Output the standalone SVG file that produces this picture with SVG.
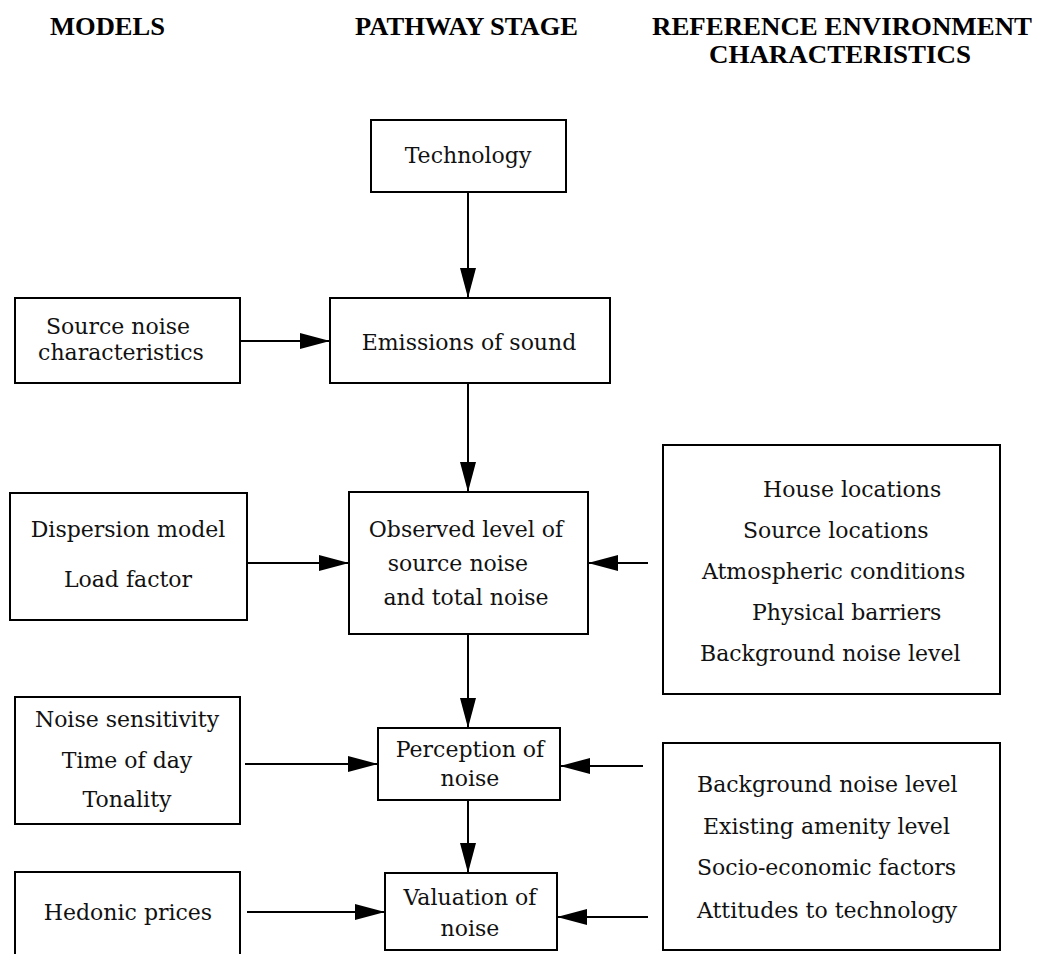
<svg xmlns="http://www.w3.org/2000/svg" width="1038" height="954" viewBox="0 0 1038 954">
<style>
.box{fill:#fff;stroke:#000;stroke-width:2}
.t{font-family:"DejaVu Serif","Liberation Serif",serif;font-size:22px;fill:#111;text-anchor:middle}
.ts{font-family:"DejaVu Serif","Liberation Serif",serif;font-size:22px;fill:#111;text-anchor:start}
.h{font-family:"Liberation Serif",serif;font-size:26px;font-weight:bold;fill:#000;text-anchor:start}
.c{stroke:#000;stroke-width:2;fill:none;marker-end:url(#ah)}
</style>
<defs>
<marker id="ah" viewBox="0 0 30 16" refX="30" refY="8" markerWidth="30" markerHeight="16" markerUnits="userSpaceOnUse" orient="auto">
<path d="M0,0 L30,8 L0,16 Z" fill="#000"/>
</marker>
</defs>
<rect width="1038" height="954" fill="#fff"/>
<g id="headers">
<text class="h" x="50" y="35" textLength="115" lengthAdjust="spacingAndGlyphs">MODELS</text>
<text class="h" x="355" y="35" textLength="223" lengthAdjust="spacingAndGlyphs">PATHWAY STAGE</text>
<text class="h" x="652" y="35" textLength="380" lengthAdjust="spacingAndGlyphs">REFERENCE ENVIRONMENT</text>
<text class="h" x="709" y="63" textLength="262" lengthAdjust="spacingAndGlyphs">CHARACTERISTICS</text>
</g>
<g id="connectors">
<line class="c" x1="468" y1="192" x2="468" y2="298"/>
<line class="c" x1="240" y1="341" x2="330" y2="341"/>
<line class="c" x1="468" y1="383" x2="468" y2="492"/>
<line class="c" x1="247" y1="563" x2="349" y2="563"/>
<line class="c" x1="648" y1="563" x2="588" y2="563"/>
<line class="c" x1="468" y1="634" x2="468" y2="728"/>
<line class="c" x1="245" y1="764" x2="378" y2="764"/>
<line class="c" x1="643" y1="766" x2="560" y2="766"/>
<line class="c" x1="468" y1="800" x2="468" y2="873"/>
<line class="c" x1="247" y1="912" x2="385" y2="912"/>
<line class="c" x1="648" y1="917" x2="557" y2="917"/>
</g>
<g id="technology">
<rect class="box" x="371" y="120" width="195" height="72"/>
<text class="t" x="468" y="163">Technology</text>
</g>
<g id="emissions">
<rect class="box" x="330" y="298" width="280" height="85"/>
<text class="t" x="469" y="350">Emissions of sound</text>
</g>
<g id="source-noise">
<rect class="box" x="15" y="298" width="225" height="85"/>
<text class="t" x="118" y="334">Source noise</text>
<text class="t" x="121" y="360">characteristics</text>
</g>
<g id="observed">
<rect class="box" x="349" y="492" width="239" height="142"/>
<text class="t" x="466" y="537">Observed level of</text>
<text class="t" x="458" y="571">source noise</text>
<text class="t" x="466" y="605">and total noise</text>
</g>
<g id="dispersion">
<rect class="box" x="10" y="493" width="237" height="127"/>
<text class="t" x="128" y="537">Dispersion model</text>
<text class="t" x="128" y="587">Load factor</text>
</g>
<g id="environment-1">
<rect class="box" x="663" y="445" width="337" height="249"/>
<text class="ts" x="763" y="497">House locations</text>
<text class="ts" x="743" y="538">Source locations</text>
<text class="ts" x="702" y="579">Atmospheric conditions</text>
<text class="ts" x="752" y="620">Physical barriers</text>
<text class="ts" x="700" y="661">Background noise level</text>
</g>
<g id="perception">
<rect class="box" x="378" y="728" width="182" height="72"/>
<text class="t" x="470" y="757">Perception of</text>
<text class="t" x="470" y="786">noise</text>
</g>
<g id="sensitivity">
<rect class="box" x="15" y="697" width="225" height="127"/>
<text class="t" x="127" y="727">Noise sensitivity</text>
<text class="t" x="127" y="768">Time of day</text>
<text class="t" x="127" y="807">Tonality</text>
</g>
<g id="environment-2">
<rect class="box" x="663" y="743" width="337" height="207"/>
<text class="ts" x="697" y="792">Background noise level</text>
<text class="ts" x="703" y="834">Existing amenity level</text>
<text class="ts" x="697" y="875">Socio-economic factors</text>
<text class="ts" x="697" y="918">Attitudes to technology</text>
</g>
<g id="valuation">
<rect class="box" x="385" y="873" width="172" height="77"/>
<text class="t" x="470" y="905">Valuation of</text>
<text class="t" x="470" y="936">noise</text>
</g>
<g id="hedonic">
<rect class="box" x="15" y="872" width="225" height="100"/>
<text class="t" x="128" y="920">Hedonic prices</text>
</g>
</svg>
